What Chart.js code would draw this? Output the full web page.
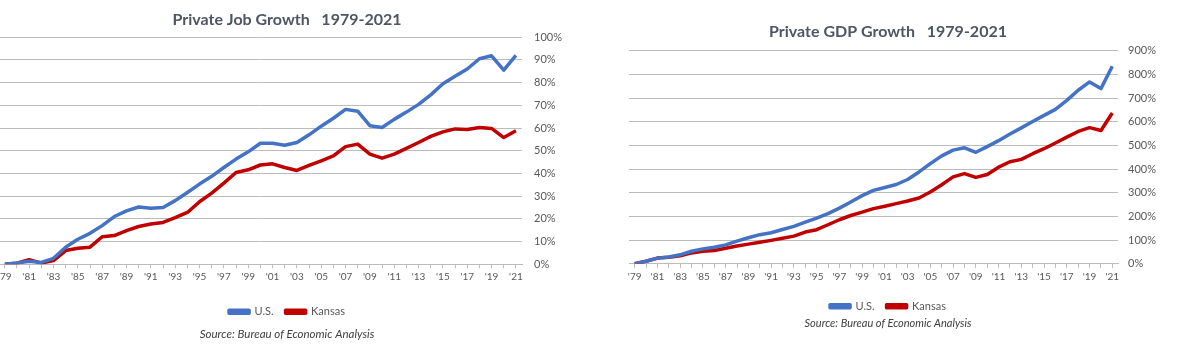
<!DOCTYPE html>
<html>
<head>
<meta charset="utf-8">
<script src="https://cdn.jsdelivr.net/npm/chart.js@4.4.0/dist/chart.umd.min.js"></script>
<style>
  html, body { margin: 0; padding: 0; background: #fff; }
  body { width: 1200px; height: 363px; position: relative; overflow: hidden; }
  .box { position: absolute; top: 0; height: 363px; }
  #jobBox { left: -5px; width: 584px; }
  #gdpBox { left: 576px; width: 624px; }
</style>
</head>
<body>
<div class="box" id="jobBox"><canvas id="jobChart"></canvas></div>
<div class="box" id="gdpBox"><canvas id="gdpChart"></canvas></div>
<script>
// Private job / GDP growth since 1979, U.S. vs Kansas (% change from 1979).
const YEARS = [1979, 1980, 1981, 1982, 1983, 1984, 1985, 1986, 1987, 1988,
               1989, 1990, 1991, 1992, 1993, 1994, 1995, 1996, 1997, 1998,
               1999, 2000, 2001, 2002, 2003, 2004, 2005, 2006, 2007, 2008,
               2009, 2010, 2011, 2012, 2013, 2014, 2015, 2016, 2017, 2018,
               2019, 2020, 2021];
// every other year gets a label
const TICK_LABELS = ["'79", "'81", "'83", "'85", "'87", "'89", "'91", "'93", "'95", "'97", "'99",
                     "'01", "'03", "'05", "'07", "'09", "'11", "'13", "'15", "'17", "'19", "'21"];

const JOB_US = [0, 0.5, 1.3, 0.8, 2.6, 7.5, 11, 13.6, 17, 21,
                23.5, 25.2, 24.6, 25, 28, 31.6, 35.3, 38.7, 42.6, 46.3,
                49.5, 53.3, 53.3, 52.4, 53.6, 57, 60.8, 64.3, 68.2, 67.4,
                61, 60.2, 63.8, 67, 70.4, 74.6, 79.5, 82.8, 86, 90.5,
                91.8, 85.5, 92];
const JOB_KS = [0, 0.4, 2, 0.5, 1.6, 6, 7, 7.5, 12.1, 12.6,
                14.8, 16.6, 17.7, 18.4, 20.5, 22.8, 27.5, 31.3, 35.7, 40.4,
                41.6, 43.7, 44.2, 42.6, 41.3, 43.5, 45.5, 47.7, 51.8, 52.9,
                48.5, 46.7, 48.5, 51, 53.6, 56.3, 58.3, 59.6, 59.3, 60.2,
                59.8, 55.8, 58.8];

const GDP_US = [0, 11, 24, 29, 38, 53, 63, 70, 80, 96,
                110, 123, 131, 145, 158, 176, 193, 212, 235, 261,
                288, 310, 322, 335, 356, 388, 423, 456, 480, 490,
                471, 495, 520, 548, 574, 601, 627, 652, 690, 733,
                768, 740, 834];
const GDP_KS = [0, 11, 24, 28, 34, 46, 53, 56, 66, 75,
                83, 91, 99, 108, 117, 134, 144, 165, 186, 204,
                218, 233, 243, 254, 265, 278, 303, 334, 367, 381,
                365, 377, 408, 431, 441, 465, 486, 510, 535, 559,
                575, 563, 637];

const BLUE = "#4472c4", RED = "#c00000";
const TXT = "#595959", GRID = "#bcbcbc";
const FONT = "Lato, 'Open Sans', sans-serif";

function lineSet(label, data, color) {
  return { label, data, borderColor: color, backgroundColor: color,
           borderWidth: 3.5, pointRadius: 0, tension: 0, borderJoinStyle: "round" };
}

function build(id, o) {
  const scales = {
    x: {
      offset: true,
      grid: { display: true, drawOnChartArea: false, drawTicks: true, tickLength: 4, color: GRID },
      border: { display: true, color: GRID },
      ticks: {
        autoSkip: false, maxRotation: 0, padding: 3, color: TXT,
        font: { family: FONT, size: 10 },
        callback: (v, i) => i % 2 === 0 ? TICK_LABELS[i / 2] : "",
      },
      afterFit: (s) => { s.height = o.xHeight; },
    },
    y: {
      position: "right", min: 0, max: o.max,
      grid: { color: GRID, drawTicks: false },
      border: { display: false },
      ticks: { stepSize: o.step, padding: o.yPad, color: TXT,
               font: { family: FONT, size: 11 }, callback: (v) => v + "%" },
      afterFit: (s) => { s.width = o.yWidth; },
    },
  };
  if (o.leftGap) {
    // empty left axis, just reserves room so the titles stay centred on the canvas
    scales.yL = { position: "left", display: true, grid: { display: false },
                  border: { display: false }, ticks: { display: false },
                  afterFit: (s) => { s.width = o.leftGap; } };
  }
  return new Chart(document.getElementById(id), {
    type: "line",
    data: { labels: YEARS, datasets: [lineSet("U.S.", o.us, BLUE), lineSet("Kansas", o.ks, RED)] },
    options: {
      responsive: true, maintainAspectRatio: false, animation: false,
      layout: { padding: { left: 0, right: 0, top: 0, bottom: o.bottomPad } },
      plugins: {
        title: { display: true, text: o.title, color: "#4e5664",
                 font: { family: FONT, size: 16, weight: "bold" },
                 padding: o.titlePad },
        legend: { position: "bottom",
                  labels: { boxWidth: 20, boxHeight: 3, padding: 12, color: TXT,
                            font: { family: FONT, size: 11 } } },
        subtitle: { display: true, position: "bottom", text: "Source: Bureau of Economic Analysis",
                    color: "#404040", font: { family: FONT, size: o.srcSize, style: "italic" },
                    padding: o.srcPad },
        tooltip: { enabled: false },
      },
      scales,
    },
  });
}

build("jobChart", {
  title: "Private Job Growth   1979-2021", us: JOB_US, ks: JOB_KS,
  max: 100, step: 10, yWidth: 57, yPad: 12, leftGap: 0,
  titlePad: { top: 10, bottom: 8 }, xHeight: 30, bottomPad: 22,
  srcSize: 11.5, srcPad: { top: 0, bottom: 0 },
});

build("gdpChart", {
  title: "Private GDP Growth   1979-2021", us: GDP_US, ks: GDP_KS,
  max: 900, step: 100, yWidth: 82, yPad: 10, leftGap: 53,
  titlePad: { top: 22, bottom: 9.5 }, xHeight: 25, bottomPad: 33,
  srcSize: 11, srcPad: { top: -5, bottom: 0 },
});
</script>
</body>
</html>
